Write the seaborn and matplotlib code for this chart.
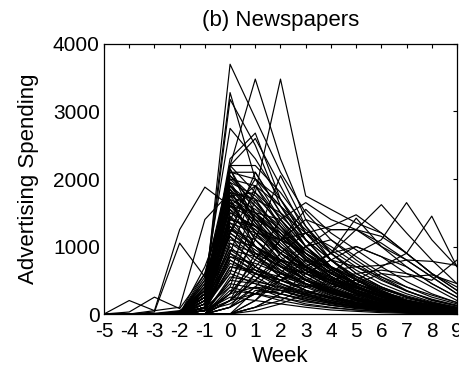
import pandas as pd
import matplotlib.pyplot as plt
import seaborn as sns

# semaines autour du lancement
weeks = list(range(-5, 10))

# courbes marquantes (pics hauts, pics tardifs, pics avant lancement)
peak_lines = [
    [0, 0, 0, 0, 300, 3700, 2900, 2100, 1500, 1100, 800, 550, 350, 200, 120],
    [0, 0, 0, 0, 200, 2200, 3480, 2300, 1400, 900, 600, 400, 250, 150, 80],
    [0, 0, 0, 0, 100, 1200, 1800, 3480, 1750, 1550, 1350, 1200, 900, 600, 400],
    [0, 0, 0, 0, 400, 3280, 2000, 1400, 900, 600, 400, 250, 150, 80, 40],
    [0, 0, 0, 0, 300, 3180, 2500, 1600, 1000, 700, 450, 300, 180, 100, 50],
    [0, 0, 0, 0, 500, 2750, 2300, 1700, 1100, 700, 500, 300, 200, 100, 60],
    [0, 0, 0, 0, 200, 2300, 2680, 1700, 1100, 800, 500, 350, 200, 120, 60],
    [0, 0, 0, 0, 300, 2200, 2600, 1900, 1200, 800, 550, 350, 200, 100, 50],
    [0, 0, 50, 1250, 1880, 1600, 1200, 800, 500, 300, 200, 100, 50, 30, 10],
    [0, 0, 30, 1050, 550, 1700, 1000, 600, 400, 250, 150, 80, 40, 20, 10],
    [0, 200, 50, 100, 1400, 1800, 1300, 900, 600, 400, 250, 150, 90, 50, 20],
    [0, 30, 250, 80, 600, 1900, 1400, 1000, 650, 420, 270, 160, 90, 50, 20],
]
late_lines = [
    [0, 0, 0, 0, 100, 900, 700, 500, 650, 900, 1250, 1620, 1200, 800, 450],
    [0, 0, 0, 0, 50, 700, 600, 500, 400, 600, 900, 1100, 1650, 1100, 700],
    [0, 0, 0, 0, 100, 800, 600, 500, 400, 450, 500, 700, 900, 1450, 700],
    [0, 0, 0, 0, 200, 1500, 1300, 1100, 1200, 1300, 1470, 1200, 900, 600, 350],
    [0, 0, 0, 0, 100, 1300, 1000, 800, 700, 900, 1420, 1000, 700, 450, 250],
    [0, 0, 0, 0, 150, 1200, 900, 700, 600, 800, 1000, 850, 600, 400, 200],
    [0, 0, 0, 0, 200, 1600, 1500, 1400, 1650, 1400, 1250, 1050, 800, 550, 300],
    [0, 0, 0, 0, 100, 1400, 1300, 1100, 1550, 1200, 950, 700, 480, 300, 170],
    [0, 0, 0, 0, 0, 200, 500, 800, 1000, 1250, 1250, 1000, 800, 550, 300],
    [0, 0, 0, 0, 0, 100, 300, 500, 700, 900, 1000, 850, 700, 450, 250],
    [0, 0, 0, 0, 0, 0, 100, 300, 500, 650, 700, 720, 800, 780, 720],
    [0, 0, 0, 0, 0, 0, 100, 200, 400, 500, 600, 650, 600, 500, 800],
    [0, 0, 0, 0, 0, 0, 50, 150, 300, 400, 450, 600, 550, 580, 450],
    [0, 0, 0, 0, 0, 300, 700, 1100, 1400, 1250, 1250, 1150, 900, 600, 350],
]
# le gros du faisceau : pic a la semaine 0
week0_lines = [
    [0, 0, 0, 20, 350, 2200, 1800, 1300, 900, 600, 400, 250, 150, 90, 50],
    [0, 0, 0, 0, 300, 2200, 2200, 1800, 1300, 900, 600, 400, 250, 150, 80],
    [0, 0, 0, 0, 400, 2100, 2100, 1500, 1000, 650, 420, 270, 170, 100, 50],
    [0, 0, 0, 10, 250, 2150, 1500, 1000, 700, 450, 300, 180, 100, 60, 30],
    [0, 0, 0, 0, 550, 2150, 1350, 850, 550, 350, 220, 140, 80, 45, 25],
    [0, 0, 0, 0, 200, 2100, 2000, 1600, 1100, 700, 450, 300, 180, 100, 60],
    [0, 0, 0, 0, 250, 2050, 1600, 1150, 800, 520, 340, 210, 130, 70, 40],
    [0, 0, 0, 30, 400, 2050, 1700, 1200, 800, 550, 350, 220, 130, 80, 40],
    [0, 0, 0, 0, 150, 2000, 1900, 1400, 1000, 650, 420, 260, 160, 90, 50],
    [0, 0, 0, 0, 600, 2000, 1650, 1250, 850, 560, 360, 230, 140, 80, 40],
    [0, 0, 10, 50, 300, 1950, 1400, 900, 600, 380, 240, 150, 90, 50, 30],
    [0, 0, 0, 0, 350, 1950, 1750, 1350, 900, 600, 390, 250, 150, 90, 50],
    [0, 0, 0, 0, 100, 1900, 1600, 1300, 950, 700, 500, 330, 200, 120, 70],
    [0, 0, 0, 0, 450, 1900, 1500, 1150, 820, 560, 380, 250, 160, 100, 50],
    [0, 0, 0, 20, 500, 1850, 1200, 800, 500, 320, 200, 120, 70, 40, 20],
    [0, 0, 0, 0, 200, 1850, 1450, 1050, 720, 480, 310, 190, 120, 70, 40],
    [0, 0, 0, 0, 250, 1800, 1700, 1500, 1200, 900, 650, 450, 300, 180, 100],
    [0, 0, 0, 0, 300, 1800, 1350, 1000, 780, 600, 450, 330, 230, 150, 90],
    [0, 0, 0, 40, 350, 1750, 1300, 950, 700, 500, 350, 230, 150, 90, 50],
    [0, 0, 0, 0, 300, 1750, 1550, 1250, 950, 680, 460, 300, 190, 110, 60],
    [0, 0, 0, 0, 200, 1750, 1800, 1450, 1100, 800, 560, 380, 250, 160, 90],
    [0, 0, 0, 0, 200, 1700, 1500, 1100, 750, 500, 330, 210, 130, 80, 40],
    [0, 0, 0, 0, 700, 1700, 1100, 750, 520, 360, 240, 160, 100, 60, 30],
    [0, 0, 0, 10, 300, 1650, 1100, 700, 450, 280, 170, 100, 60, 30, 20],
    [0, 0, 0, 0, 250, 1650, 1450, 1150, 850, 620, 440, 310, 210, 140, 80],
    [0, 0, 0, 0, 150, 1600, 1400, 1200, 900, 650, 450, 300, 200, 120, 60],
    [0, 0, 0, 30, 450, 1550, 1000, 650, 420, 270, 170, 100, 60, 35, 20],
    [0, 0, 0, 0, 400, 1550, 1250, 900, 640, 450, 310, 210, 140, 90, 50],
    [0, 0, 0, 0, 100, 1500, 1300, 1000, 700, 480, 320, 200, 120, 70, 40],
    [0, 0, 0, 20, 250, 1450, 900, 550, 350, 220, 140, 80, 50, 30, 15],
    [0, 0, 0, 0, 200, 1450, 1150, 900, 700, 530, 390, 280, 190, 120, 70],
    [0, 0, 0, 0, 200, 1400, 1250, 950, 680, 450, 300, 190, 110, 60, 30],
    [0, 0, 0, 0, 50, 1350, 1200, 1100, 900, 700, 520, 370, 250, 160, 90],
    [0, 0, 0, 0, 350, 1350, 1000, 720, 500, 340, 230, 150, 95, 55, 30],
    [0, 0, 0, 10, 300, 1300, 850, 550, 350, 230, 150, 90, 55, 30, 15],
    [0, 0, 0, 0, 150, 1250, 1100, 800, 550, 380, 250, 160, 100, 60, 30],
    [0, 0, 0, 0, 150, 1250, 1000, 780, 600, 460, 350, 260, 190, 130, 80],
    [0, 0, 0, 0, 100, 1200, 950, 700, 600, 500, 400, 300, 200, 130, 80],
    [0, 0, 0, 30, 350, 1150, 700, 450, 300, 200, 130, 80, 50, 30, 15],
    [0, 0, 0, 0, 300, 1150, 850, 620, 440, 310, 210, 140, 90, 55, 30],
    [0, 0, 0, 0, 200, 1100, 1000, 750, 500, 330, 210, 130, 80, 45, 25],
    [0, 0, 0, 0, 80, 1050, 900, 800, 650, 500, 380, 280, 190, 120, 70],
    [0, 0, 0, 0, 100, 1050, 800, 600, 450, 330, 240, 170, 120, 80, 50],
    [0, 0, 0, 10, 250, 1000, 650, 420, 280, 180, 110, 70, 40, 25, 10],
    [0, 0, 0, 0, 150, 950, 850, 650, 450, 300, 200, 120, 70, 40, 20],
    [0, 0, 0, 0, 250, 950, 700, 500, 350, 250, 170, 110, 70, 40, 20],
    [0, 0, 0, 0, 100, 900, 600, 400, 270, 180, 120, 70, 40, 25, 10],
    [0, 0, 0, 0, 200, 850, 750, 600, 450, 320, 220, 150, 100, 60, 30],
    [0, 0, 0, 0, 50, 850, 650, 550, 450, 360, 280, 210, 150, 100, 60],
    [0, 0, 0, 0, 50, 800, 550, 350, 230, 150, 100, 60, 35, 20, 10],
    [0, 0, 0, 0, 150, 750, 600, 450, 330, 240, 170, 120, 80, 50, 30],
    [0, 0, 0, 0, 100, 700, 650, 500, 350, 240, 160, 100, 60, 35, 20],
    [0, 0, 0, 0, 100, 650, 500, 380, 280, 200, 140, 100, 65, 40, 20],
    [0, 0, 0, 0, 150, 600, 450, 300, 200, 130, 80, 50, 30, 15, 10],
    [0, 0, 0, 0, 0, 550, 480, 400, 320, 250, 190, 140, 100, 65, 40],
    [0, 0, 0, 0, 50, 500, 450, 350, 250, 170, 110, 70, 40, 25, 10],
    [0, 0, 0, 0, 50, 450, 380, 300, 220, 160, 110, 75, 50, 30, 15],
    [0, 0, 0, 0, 100, 400, 300, 200, 130, 90, 60, 35, 20, 10, 5],
    [0, 0, 0, 0, 0, 350, 300, 240, 180, 130, 90, 60, 40, 25, 10],
    [0, 0, 0, 0, 0, 300, 400, 250, 150, 100, 60, 40, 20, 10, 5],
    [0, 0, 0, 0, 50, 250, 200, 150, 100, 60, 40, 20, 10, 5, 0],
]
# pics a la semaine 1 ou plus tard
later_peak_lines = [
    [0, 0, 0, 0, 100, 1200, 2100, 1500, 1000, 650, 420, 270, 170, 100, 60],
    [0, 0, 0, 0, 100, 1600, 1900, 1600, 1250, 950, 700, 500, 340, 220, 130],
    [0, 0, 0, 0, 50, 900, 1900, 1300, 850, 550, 350, 220, 130, 80, 40],
    [0, 0, 0, 0, 200, 1400, 2000, 1700, 1200, 800, 520, 330, 200, 120, 70],
    [0, 0, 0, 0, 100, 600, 1700, 1100, 700, 450, 290, 180, 110, 60, 30],
    [0, 0, 0, 0, 0, 400, 1500, 1200, 850, 600, 400, 260, 160, 100, 50],
    [0, 0, 0, 0, 50, 300, 1200, 900, 650, 450, 300, 200, 120, 70, 40],
    [0, 0, 0, 0, 0, 200, 900, 700, 500, 350, 230, 150, 90, 50, 30],
    [0, 0, 0, 0, 0, 100, 600, 450, 300, 200, 130, 80, 50, 30, 15],
    [0, 0, 0, 0, 50, 150, 400, 350, 250, 170, 110, 70, 40, 25, 10],
    [0, 0, 0, 0, 0, 0, 350, 300, 200, 130, 90, 60, 35, 20, 10],
    [0, 0, 0, 0, 0, 300, 800, 1400, 1000, 700, 450, 300, 180, 100, 60],
    [0, 0, 0, 0, 0, 500, 1100, 2050, 1300, 800, 500, 320, 200, 120, 70],
    [0, 0, 0, 0, 50, 200, 600, 1100, 900, 650, 450, 300, 190, 110, 60],
    [0, 0, 0, 0, 0, 100, 400, 800, 700, 550, 400, 280, 180, 110, 60],
    [0, 0, 0, 0, 0, 0, 200, 600, 500, 380, 270, 180, 110, 70, 40],
    [0, 0, 0, 0, 0, 200, 300, 350, 300, 230, 170, 120, 80, 50, 30],
    [0, 0, 0, 0, 0, 200, 500, 900, 1200, 1000, 750, 520, 340, 210, 120],
    [0, 0, 0, 0, 0, 100, 300, 600, 1000, 1100, 850, 600, 400, 250, 150],
    [0, 0, 0, 0, 0, 0, 200, 500, 800, 700, 550, 400, 270, 170, 100],
    [0, 0, 0, 0, 0, 0, 100, 300, 600, 800, 700, 550, 400, 280, 170],
]

all_lines = peak_lines + late_lines + week0_lines + later_peak_lines
rows = []
for i, vals in enumerate(all_lines):
    for w, v in zip(weeks, vals):
        rows.append({'ad': i, 'Week': w, 'Spending': v})
df = pd.DataFrame(rows)

sns.set_style('white')
plt.rcParams['font.family'] = ['Liberation Sans', 'DejaVu Sans']
plt.rcParams['axes.unicode_minus'] = False
plt.rcParams['text.color'] = 'black'
plt.rcParams['axes.labelcolor'] = 'black'

fig = plt.figure(figsize=(4.59, 3.69), dpi=100)
ax = fig.add_axes([0.2266, 0.149, 0.769, 0.7318])
sns.lineplot(data=df, x='Week', y='Spending', units='ad', estimator=None,
             color='black', linewidth=0.85, ax=ax, legend=False)

ax.set_xlim(-5, 9)
ax.set_ylim(0, 4000)
ax.set_xticks(weeks)
ax.set_yticks([0, 1000, 2000, 3000, 4000])
ax.tick_params(direction='in', top=True, right=True, length=3, width=0.8,
               labelsize=15, colors='black')
ax.tick_params(axis='x', pad=6)
ax.tick_params(axis='y', pad=3)
for s in ax.spines.values():
    s.set_color('black')
    s.set_linewidth(0.9)

ax.set_title("(b) Newspapers", fontsize=16, pad=13, color='black')
ax.set_xlabel("Week", fontsize=16, labelpad=3)
ax.set_ylabel("Advertising Spending", fontsize=16, labelpad=10)

fig.savefig('out.png', dpi=100)
